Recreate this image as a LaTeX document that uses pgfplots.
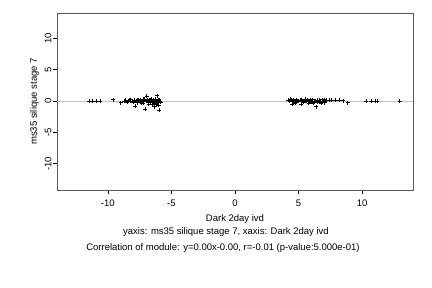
\documentclass[border=0pt]{standalone}
\usepackage{pgfplots}
\pgfplotsset{compat=1.18}
\usepackage{fontspec}
\setmainfont{Liberation Sans}
\begin{document}
\begin{tikzpicture}[x=1pt,y=1pt]
\path (0,0) rectangle (432,288);
\begin{axis}[
  at={(57pt,98pt)}, anchor=south west,
  scale only axis, width=356pt, height=177pt,
  xmin=-14, xmax=14, ymin=-14.2, ymax=14,
  axis line style={gray!70!black},
  xtick={-10,-5,0,5,10}, ytick={-10,-5,0,5,10},
  tick align=outside, major tick length=4pt,
  xtick pos=bottom, ytick pos=left,
  tick style={black, line width=0.4pt},
  every tick label/.append style={font=\fontsize{9.5}{11}\selectfont},
  xticklabel style={yshift=-2pt},
  yticklabel style={xshift=2pt, rotate=90, anchor=south},
  /pgf/number format/assume math mode=true,
  xlabel={Dark 2day ivd}, ylabel={ms35 silique stage 7},
  label style={font=\fontsize{9.5}{11}\selectfont},
  xlabel style={yshift=-1pt},
  ylabel style={yshift=-1pt},
  clip=true,
]
\addplot[gray!50, line width=0.6pt, forget plot] coordinates {(-14,0) (14,0)};
\addplot[only marks, mark=+, mark size=2pt, black, line width=0.5pt] coordinates {
(-11.5,-0.1) (-11.2,0) (-10.9,0) (-10.6,0) (-9.6,0.2) (-9.0,-0.3) (-8.7,-0.1) (-8.6,0.1)
(-8.5,-0.2) (-8.4,0) (-8.3,0.1) (-8.2,-0.1) (-8.1,0) (-8.0,-0.2) (-7.9,0.1) (-7.87,-0.8)
(-7.8,0) (-7.7,-0.3) (-7.6,0.2) (-7.5,-0.1) (-7.45,0.1) (-7.4,-0.2) (-7.3,0) (-7.25,0.3)
(-7.2,-0.4) (-7.1,0.1) (-7.06,-1.3) (-7.0,-0.1) (-6.96,0.8) (-6.9,0.2) (-6.85,-0.2) (-6.8,0)
(-6.75,0.1) (-6.7,-0.3) (-6.65,0.2) (-6.6,-0.1) (-6.55,0) (-6.5,-0.5) (-6.45,0.1) (-6.4,-0.2)
(-6.35,-0.9) (-6.3,0.3) (-6.25,-0.1) (-6.2,0) (-6.15,-0.3) (-6.1,0.85) (-6.05,0.2) (-6.0,-0.1)
(-5.96,-1.5) (-5.95,0.1) (-5.9,0) (-5.85,-0.2) (-6.8,-0.5) (-7.35,-0.4) (-6.2,-0.6) (-6.0,-0.7)
(-8.25,0.2) (-7.65,0.15) (-7.15,0.3) (-6.6,0.3) (-6.3,-0.4)
(4.2,0.1) (4.3,-0.1) (4.4,0.2) (4.5,-0.5) (4.55,0) (4.6,0.1) (4.7,-0.2) (4.8,0.2) (4.9,0)
(5.0,-0.1) (5.1,0.1) (5.2,-0.5) (5.25,0.2) (5.3,0) (5.4,-0.2) (5.5,0.1) (5.6,-0.1) (5.7,0.2)
(5.8,-0.4) (5.85,0) (5.9,0.1) (6.0,-0.2) (6.1,0.2) (6.2,0) (6.3,-0.1) (6.4,-0.9) (6.45,0.1)
(6.5,-0.2) (6.6,0.1) (6.7,0) (6.8,-0.3) (6.85,0.2) (6.9,-0.1) (7.0,0.1) (7.05,-0.3) (7.1,0)
(7.2,0.1) (7.4,0.1) (7.6,0.1) (7.9,0.1) (8.2,0.1) (8.5,0.05) (8.85,-0.3) (10.3,0) (10.7,0)
(11.0,0) (11.2,0) (12.94,0) (4.35,0.25) (4.75,-0.4) (5.55,0.25) (6.15,-0.35) (6.75,-0.4)
};
\end{axis}
\node[font=\fontsize{9.5}{11}\selectfont] at (226pt,56pt) {yaxis: ms35 silique stage 7, xaxis: Dark 2day ivd};
\node[font=\fontsize{9.5}{11}\selectfont] at (223pt,40pt) {Correlation of module: y=0.00x-0.00, r=-0.01 (p-value:5.000e-01)};
\end{tikzpicture}
\end{document}
